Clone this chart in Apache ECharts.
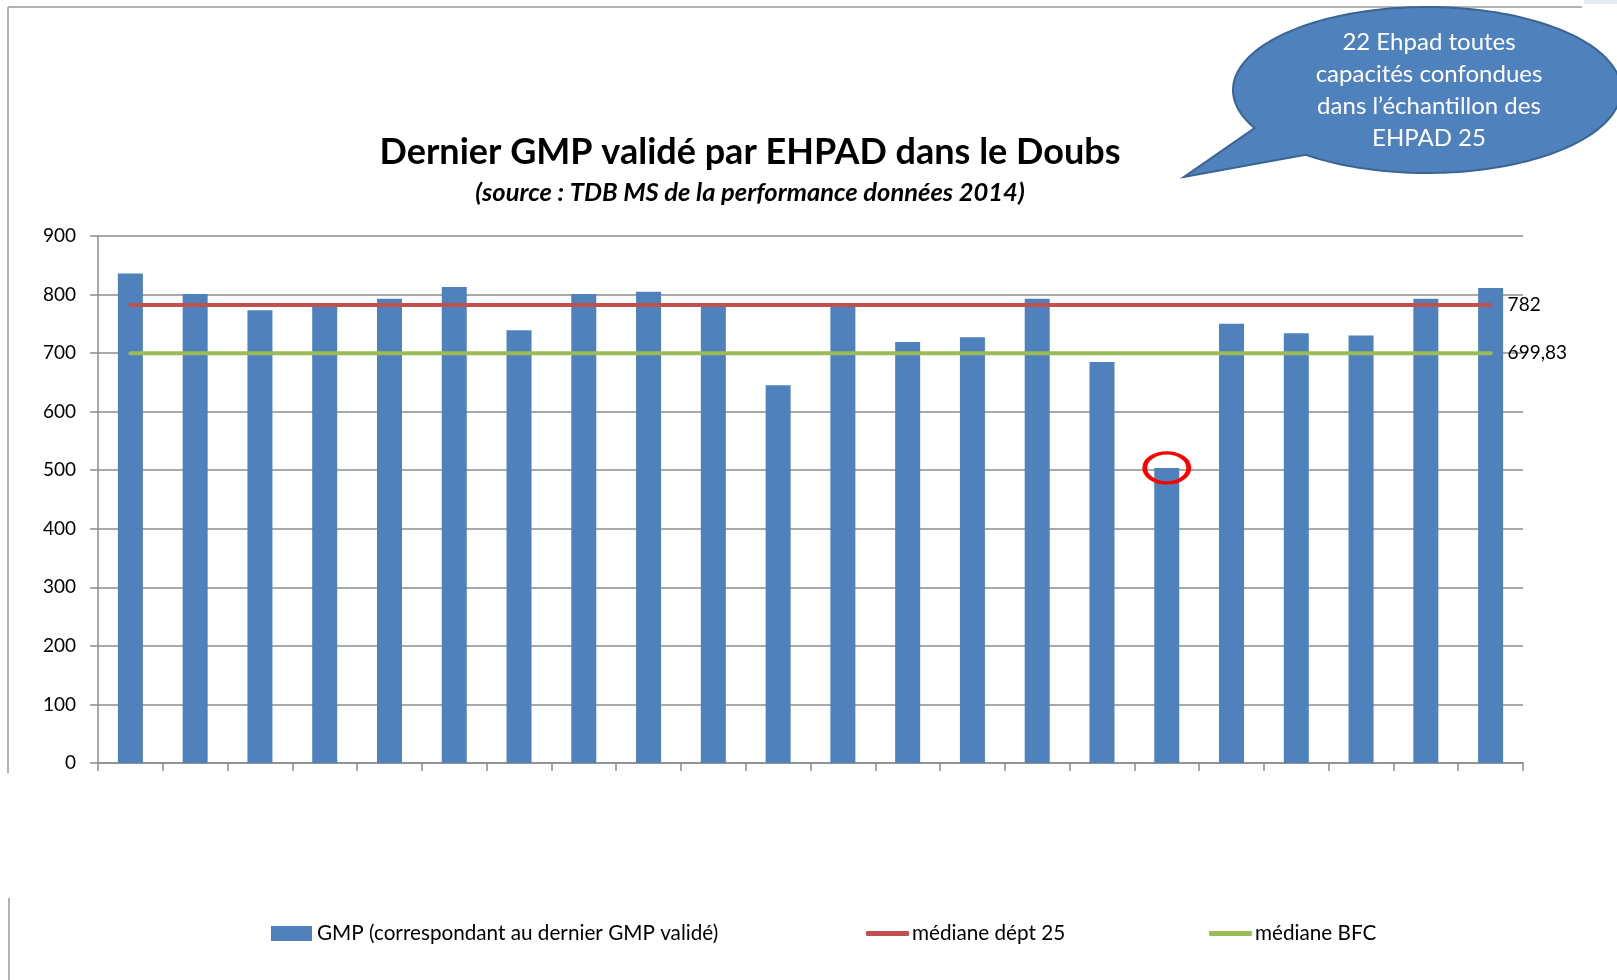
<!DOCTYPE html>
<html>
<head>
<meta charset="utf-8">
<title>Dernier GMP validé par EHPAD dans le Doubs</title>
<script src="https://cdn.jsdelivr.net/npm/echarts@6/dist/echarts.min.js"></script>
<style>
  html, body { margin: 0; padding: 0; background: #fff; }
  #main { width: 1617px; height: 980px; }
</style>
</head>
<body>
<div id="main"></div>
<script>
// 22 EHPAD du Doubs (pas de libellés sur l'axe des x)
const categories = ['EHPAD 1', 'EHPAD 2', 'EHPAD 3', 'EHPAD 4', 'EHPAD 5', 'EHPAD 6', 'EHPAD 7', 'EHPAD 8',
  'EHPAD 9', 'EHPAD 10', 'EHPAD 11', 'EHPAD 12', 'EHPAD 13', 'EHPAD 14', 'EHPAD 15', 'EHPAD 16',
  'EHPAD 17', 'EHPAD 18', 'EHPAD 19', 'EHPAD 20', 'EHPAD 21', 'EHPAD 22'];
// dernier GMP validé
const gmpValues = [836, 801, 773, 783, 793, 813, 739, 801, 805, 783, 645,
  784, 719, 727, 793, 685, 504, 750, 734, 730, 793, 811];
const medianeDept = 782;
const medianeBFC = 699.83;
const yMin = 0, yMax = 900, yStep = 100;
// EHPAD entouré en rouge
const highlightIndex = 16;

const font = 'Lato';
const chartDom = document.getElementById('main');
const myChart = echarts.init(chartDom);

// bulle de commentaire : ellipse + pointe
function bubblePoints(cx, cy, rx, ry, tip, a0, a1) {
  const pts = [];
  for (let a = a0; a <= a1 + 360; a += 2) {
    const r = a * Math.PI / 180;
    pts.push([cx + rx * Math.cos(r), cy + ry * Math.sin(r)]);
  }
  pts.push(tip);
  return pts;
}

const legendText = { fontSize: 20.7, color: '#000', fontFamily: font };

const option = {
  backgroundColor: '#fff',
  animation: false,
  textStyle: { fontFamily: font },
  grid: { left: 98, right: 94, top: 236, bottom: 217, containLabel: false },
  xAxis: {
    type: 'category',
    data: categories,
    axisLine: { lineStyle: { color: '#8c8c8c', width: 1.5 } },
    axisTick: { show: true, interval: 0, length: 8, lineStyle: { color: '#8c8c8c', width: 1.5 } },
    axisLabel: { show: false, interval: 0 },
    splitLine: { show: false }
  },
  yAxis: {
    type: 'value',
    min: yMin,
    max: yMax,
    interval: yStep,
    axisLine: { show: true, lineStyle: { color: '#8c8c8c', width: 1.5 } },
    axisTick: { show: true, length: 8, lineStyle: { color: '#8c8c8c', width: 1.5 } },
    axisLabel: { color: '#000', fontSize: 19, margin: 22, fontFamily: font },
    splitLine: { lineStyle: { color: '#8c8c8c', width: 1.5 } }
  },
  legend: [
    {
      left: 271, top: 923, padding: 0, icon: 'rect', itemWidth: 41, itemHeight: 15, itemGap: 0,
      textStyle: legendText,
      data: ['GMP (correspondant au dernier GMP validé)']
    },
    {
      left: 866, top: 923, padding: 0, icon: 'roundRect', itemWidth: 43, itemHeight: 5, itemGap: 0,
      textStyle: Object.assign({ padding: [0, 0, 0, -2] }, legendText),
      data: ['médiane dépt 25']
    },
    {
      left: 1209, top: 923, padding: 0, icon: 'roundRect', itemWidth: 43, itemHeight: 5, itemGap: 0,
      textStyle: Object.assign({ padding: [0, 0, 0, -2] }, legendText),
      data: ['médiane BFC']
    }
  ],
  series: [
    {
      name: 'GMP (correspondant au dernier GMP validé)',
      type: 'bar',
      data: gmpValues,
      barWidth: 25,
      itemStyle: { color: '#4F81BD' },
      z: 2,
      markPoint: {
        symbol: 'circle',
        symbolSize: [44, 30],
        silent: true,
        itemStyle: { color: 'rgba(0,0,0,0)', borderColor: '#ff0000', borderWidth: 4 },
        label: { show: false },
        data: [{ coord: [highlightIndex, gmpValues[highlightIndex]] }]
      }
    },
    {
      name: 'médiane dépt 25',
      type: 'line',
      data: [[0, medianeDept], [categories.length - 1, medianeDept]],
      symbol: 'none',
      lineStyle: { color: '#C0504D', width: 4, cap: 'round' },
      itemStyle: { color: '#C0504D' },
      z: 3,
      endLabel: {
        show: true, distance: 17, color: '#000', fontSize: 19, fontFamily: font,
        formatter: () => String(medianeDept)
      }
    },
    {
      name: 'médiane BFC',
      type: 'line',
      data: [[0, medianeBFC], [categories.length - 1, medianeBFC]],
      symbol: 'none',
      lineStyle: { color: '#9BBB59', width: 4, cap: 'round' },
      itemStyle: { color: '#9BBB59' },
      z: 3,
      endLabel: {
        show: true, distance: 17, color: '#000', fontSize: 19, fontFamily: font,
        formatter: () => String(medianeBFC).replace('.', ',')
      }
    }
  ],
  graphic: [
    // cadre de la diapositive
    { type: 'line', shape: { x1: 8, y1: 7, x2: 1582, y2: 7 }, style: { stroke: '#9a9a9a', lineWidth: 1.5 } },
    { type: 'line', shape: { x1: 8, y1: 7, x2: 8, y2: 773 }, style: { stroke: '#9a9a9a', lineWidth: 1.5 } },
    { type: 'line', shape: { x1: 9, y1: 898, x2: 9, y2: 980 }, style: { stroke: '#9a9a9a', lineWidth: 1.5 } },
    { type: 'rect', shape: { x: 1584, y: 0, width: 40, height: 4 }, style: { fill: '#e4eaf2' } },
    {
      type: 'text', x: 750, y: 152,
      style: {
        text: 'Dernier GMP validé par EHPAD dans le Doubs',
        align: 'center', verticalAlign: 'middle', fill: '#000',
        font: 'bold 36px Lato'
      }
    },
    {
      type: 'text', x: 750, y: 193,
      style: {
        text: '(source : TDB MS de la performance données 2014)',
        align: 'center', verticalAlign: 'middle', fill: '#000',
        font: 'italic bold 25.5px Lato'
      }
    },
    {
      type: 'polygon', z: 10,
      shape: { points: bubblePoints(1427, 90, 194, 83, [1184, 177], 152.7, 129.2) },
      style: { fill: '#4F81BD', stroke: '#3A6491', lineWidth: 2 }
    },
    {
      type: 'text', x: 1429, y: 90, z: 11,
      style: {
        text: '22 Ehpad toutes\ncapacités confondues\ndans l’échantillon des\nEHPAD 25',
        align: 'center', verticalAlign: 'middle', fill: '#fff',
        font: '24px Lato', lineHeight: 32
      }
    }
  ]
};

option && myChart.setOption(option);
</script>
</body>
</html>
